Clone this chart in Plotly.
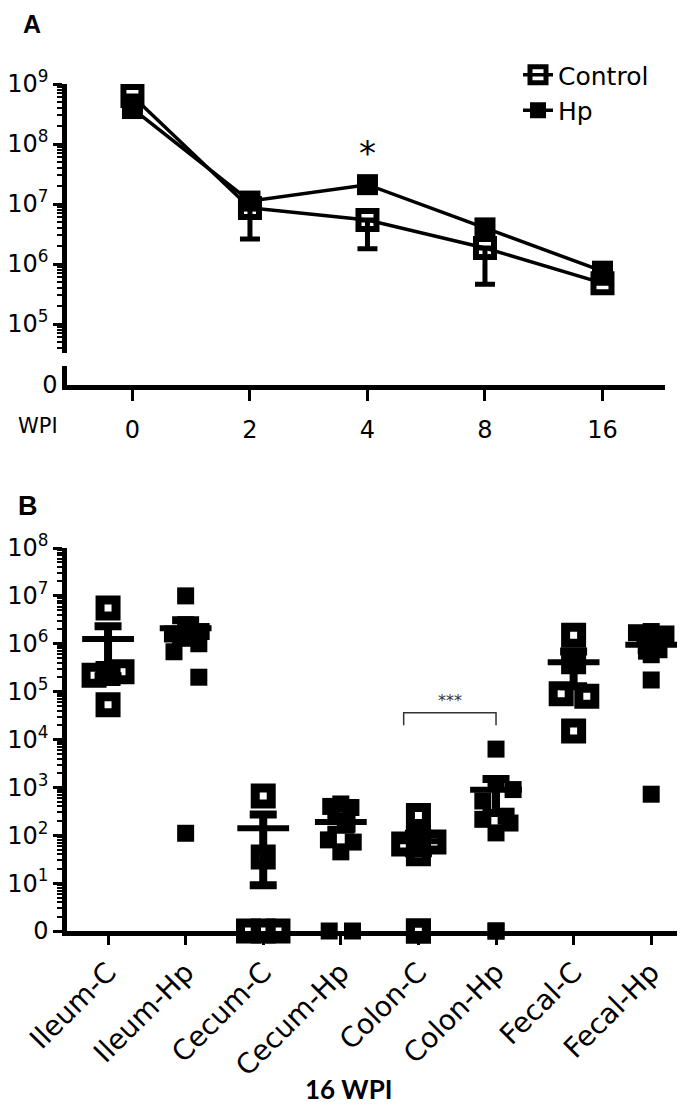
import math
import plotly.graph_objects as go

W, H = 685, 1108

# ---------------- Panel A data ----------------
weeks = ["0", "2", "4", "8", "16"]
control_mean = [6.3e8, 8.6e6, 5.4e6, 1.85e6, 4.8e5]
hp_mean = [3.9e8, 1.12e7, 2.1e7, 4.0e6, 7.6e5]
control_sem_low = [0, 6.0e6, 3.6e6, 1.39e6, 0]

# ---------------- Panel B data ----------------
groups = ["Ileum-C", "Ileum-Hp", "Cecum-C", "Cecum-Hp",
          "Colon-C", "Colon-Hp", "Fecal-C", "Fecal-Hp"]
ileum_c = [5.6e6, 2.2e5, 2.4e5, 2.6e5, 5.3e4]
ileum_hp = [1.0e7, 2.5e6, 1.8e6, 1.6e6, 1.3e6, 1.0e6, 6.8e5, 2.0e5, 1.1e2]
cecum_c = [660, 35, 0, 0, 0]
cecum_hp = [450, 400, 380, 170, 80, 72, 45, 0, 0]
colon_c = [260, 89, 72, 66, 41, 0, 0]
colon_hp = [6300, 1200, 900, 520, 250, 215, 180, 112, 0, 0]
fecal_c = [1.5e6, 4.2e5, 9.0e4, 8.0e4, 1.5e4]
fecal_hp = [1.8e6, 1.7e6, 1.6e6, 1.3e6, 7.5e5, 7.0e5, 5.9e5, 1.75e5, 720]
group_mean = [1.26e6, 2.1e6, 140, 190, 75, 890, 4.1e5, 9.5e5]
group_sem = [1.05e6, 1.0e6, 131, 60, 33, 600, 2.8e5, 2.2e5]

# horizontal scatter (jitter) of overlapping points, in category units
ileum_c_jit = [0, -0.18, 0, 0.18, 0]
ileum_hp_jit = [0, 0, 0.2, -0.17, 0.03, 0.17, -0.15, 0.17, 0]
cecum_c_jit = [0, 0, -0.19, 0, 0.19]
cecum_hp_jit = [0, -0.13, 0.13, 0.08, -0.16, 0.16, 0, -0.15, 0.15]
colon_c_jit = [0, 0, 0.2, -0.19, 0, 0, 0]
colon_hp_jit = [0, 0, 0.22, -0.17, 0.13, -0.17, 0.18, 0, 0, 0]
fecal_c_jit = [0, 0, -0.16, 0.17, 0]
fecal_hp_jit = [0, -0.19, 0.19, -0.08, 0.1, -0.06, 0, 0, 0]

b_values = [ileum_c, ileum_hp, cecum_c, cecum_hp, colon_c, colon_hp, fecal_c, fecal_hp]
b_jitter = [ileum_c_jit, ileum_hp_jit, cecum_c_jit, cecum_hp_jit,
            colon_c_jit, colon_hp_jit, fecal_c_jit, fecal_hp_jit]

# significance bracket level (log10 units) between Colon-C and Colon-Hp
bracket_top, bracket_foot = 4.56, 4.30


def px_x(x):
    return x / W


def px_y(y):
    return 1 - y / H


FONT = "DejaVu Sans"
BLACK = "black"

fig = go.Figure()

# ---- Panel A traces ----
fig.add_trace(go.Scatter(
    x=list(range(len(weeks))), y=hp_mean, name="Hp", mode="lines+markers",
    line=dict(color=BLACK, width=3.5),
    marker=dict(symbol="square", size=21, color=BLACK),
    xaxis="x", yaxis="y", legendrank=2, cliponaxis=False))
fig.add_trace(go.Scatter(
    x=list(range(len(weeks))), y=control_mean, name="Control", mode="lines+markers",
    line=dict(color=BLACK, width=3.5),
    marker=dict(symbol="square-open", size=18, color=BLACK, line=dict(width=6, color=BLACK)),
    error_y=dict(type="data", symmetric=False, array=[0] * len(weeks),
                 arrayminus=control_sem_low, color=BLACK, thickness=5, width=10),
    xaxis="x", yaxis="y", legendrank=1, cliponaxis=False))

# invisible trace so the "0" stub axis exists
fig.add_trace(go.Scatter(x=[0], y=[0.5], mode="markers", marker=dict(opacity=0),
                         xaxis="x", yaxis="y3", showlegend=False, hoverinfo="skip"))

# ---- Panel B traces ----
for i, (vals, jit) in enumerate(zip(b_values, b_jitter)):
    xs = [i + j for j in jit]
    ys = [v if v > 0 else 1 for v in vals]  # zeros sit on the axis floor ("0")
    is_control = groups[i].endswith("-C")
    if is_control:
        marker = dict(symbol="square-open", size=16, color=BLACK, line=dict(width=9, color=BLACK))
    else:
        marker = dict(symbol="square", size=17, color=BLACK, line=dict(width=0))
    fig.add_trace(go.Scatter(x=xs, y=ys, mode="markers", marker=marker,
                             xaxis="x2", yaxis="y2", showlegend=False, cliponaxis=False))

fig.add_trace(go.Scatter(
    x=list(range(len(groups))), y=group_mean, mode="markers",
    marker=dict(symbol="line-ew", size=37, color=BLACK, line=dict(width=6, color=BLACK)),
    error_y=dict(type="data", array=group_sem, color=BLACK, thickness=8, width=13.5),
    xaxis="x2", yaxis="y2", showlegend=False, cliponaxis=False))

# ---- axes ----
axis_common = dict(showgrid=False, zeroline=False, showline=True, linecolor=BLACK,
                   linewidth=4.5, ticks="outside", tickcolor=BLACK, tickwidth=3,
                   automargin=False,
                   tickfont=dict(family=FONT, size=24, color=BLACK))

ticks_a = [1e5, 1e6, 1e7, 1e8, 1e9]
ticks_b = [1, 1e1, 1e2, 1e3, 1e4, 1e5, 1e6, 1e7, 1e8]


def sup_label(v):
    e = int(round(math.log10(v)))
    return "0" if e == 0 else "10<sup>%d</sup>" % e


fig.update_layout(
    width=W, height=H, margin=dict(l=0, r=0, t=0, b=0, autoexpand=False), autosize=False,
    paper_bgcolor="white", plot_bgcolor="white",
    showlegend=True,
    legend=dict(x=px_x(510), y=px_y(44), xanchor="left", yanchor="top",
                font=dict(family=FONT, size=25, color=BLACK), bgcolor="rgba(0,0,0,0)"),
    xaxis=dict(axis_common, domain=[px_x(59), px_x(657)], anchor="y3",
               range=[-0.557, 4.532], tickvals=list(range(len(weeks))), ticktext=weeks,
               ticklen=11, ticklabelstandoff=8),
    yaxis=dict(axis_common, domain=[px_y(345), px_y(76)], anchor="x", type="log",
               range=[4.517, 9], tickvals=ticks_a, ticktext=[sup_label(v) for v in ticks_a],
               ticklen=9,
               minor=dict(ticks="outside", ticklen=5, tickwidth=2, tickcolor=BLACK,
                          dtick="D1", showgrid=False)),
    yaxis3=dict(axis_common, domain=[px_y(377), px_y(358)], anchor="x",
                range=[0, 1], tickvals=[0], ticktext=["0"], ticks=""),
    xaxis2=dict(axis_common, domain=[px_x(59), px_x(682)], anchor="y2",
                range=[-0.529, 7.5], tickvals=list(range(len(groups))), ticktext=groups,
                tickangle=-45, ticklen=9, tickfont=dict(family=FONT, size=28, color=BLACK)),
    yaxis2=dict(axis_common, domain=[px_y(923), px_y(540)], anchor="x2", type="log",
                range=[0, 8], tickvals=ticks_b, ticktext=[sup_label(v) for v in ticks_b],
                ticklen=9,
                minor=dict(ticks="outside", ticklen=5, tickwidth=2, tickcolor=BLACK,
                           dtick="D1", showgrid=False)),
)

# ---- annotations ----
ann = []
mid = dict(xanchor="center", yanchor="middle", showarrow=False)
ann.append(dict(mid, text="<b>A</b>", x=px_x(24), y=px_y(16), xref="paper", yref="paper",
                font=dict(family="Liberation Sans", size=25, color=BLACK)))
ann.append(dict(mid, text="<b>B</b>", x=px_x(20), y=px_y(498), xref="paper", yref="paper",
                font=dict(family="Liberation Sans", size=27, color=BLACK)))
ann.append(dict(mid, text="WPI", x=px_x(30), y=px_y(418), xref="paper", yref="paper",
                font=dict(family=FONT, size=21, color=BLACK)))
ann.append(dict(mid, text="<b>16 WPI</b>", x=px_x(340), y=px_y(1081), xref="paper", yref="paper",
                font=dict(family="Lato", size=26, color=BLACK)))
# significance star at 4 WPI
ann.append(dict(mid, text="*", x=2, y=math.log10(hp_mean[2]), xref="x", yref="y",
                yshift=32, font=dict(family=FONT, size=34, color=BLACK)))
# *** between Colon-C and Colon-Hp
ci, hi = groups.index("Colon-C"), groups.index("Colon-Hp")
ann.append(dict(mid, text="***", x=(ci - 0.19 + hi) / 2, y=bracket_top, xref="x2", yref="y2",
                yshift=12, font=dict(family=FONT, size=16, color="#333333")))
fig.update_layout(annotations=ann)

top_v, foot_v = 10 ** bracket_top, 10 ** bracket_foot
fig.add_shape(type="path", xref="x2", yref="y2",
              path="M %f,%f L %f,%f L %f,%f L %f,%f" % (
                  ci - 0.19, foot_v, ci - 0.19, top_v, hi, top_v, hi, foot_v),
              line=dict(color="#333333", width=1.5))

fig.write_html("out.html")
